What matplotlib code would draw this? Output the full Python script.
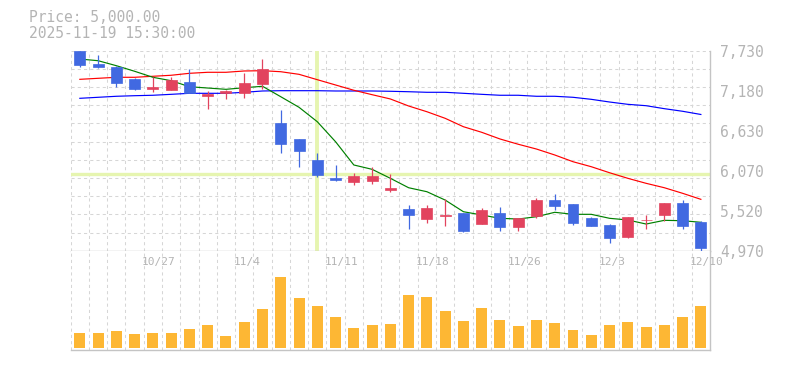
import matplotlib
matplotlib.use("Agg")
import matplotlib.pyplot as plt
import matplotlib.transforms as mtransforms
import numpy as np

# ---- data (daily candles, 10/21 - 12/10) ----
dates = ['10/21', '10/22', '10/23', '10/24', '10/27', '10/28', '10/29',
         '10/30', '10/31', '11/4', '11/5', '11/6', '11/7', '11/10',
         '11/11', '11/12', '11/13', '11/14', '11/17', '11/18', '11/19',
         '11/20', '11/21', '11/25', '11/26', '11/27', '11/28', '12/1',
         '12/2', '12/3', '12/4', '12/5', '12/8', '12/9', '12/10']

open_ = [7720, 7546, 7505, 7344, 7206, 7192, 7298, 7109, 7142, 7150,
         7270, 6732, 6511, 6222, 5973, 5918, 5936, 5808, 5545, 5412,
         5449, 5490, 5343, 5490, 5301, 5449, 5670, 5615, 5425, 5325,
         5163, 5390, 5457, 5628, 5366]
high = [7730, 7671, 7523, 7353, 7371, 7371, 7477, 7174, 7188, 7418,
        7615, 6912, 6511, 6318, 6153, 6042, 6125, 6032, 5600, 5601,
        5679, 5490, 5559, 5573, 5421, 5697, 5752, 5615, 5439, 5343,
        5435, 5467, 5628, 5670, 5380]
low = [7509, 7487, 7233, 7192, 7164, 7192, 7142, 6930, 7063, 7081,
       7197, 6322, 6125, 5991, 5936, 5881, 5895, 5784, 5274, 5356,
       5315, 5232, 5343, 5246, 5246, 5425, 5536, 5329, 5315, 5080,
       5149, 5274, 5384, 5274, 4970]
close = [7533, 7505, 7288, 7206, 7233, 7326, 7142, 7132, 7174, 7284,
         7477, 6447, 6346, 6019, 5950, 6001, 6001, 5835, 5467, 5559,
         5463, 5246, 5532, 5301, 5421, 5670, 5591, 5356, 5315, 5150,
         5435, 5398, 5628, 5315, 5011]

ma5 = [7615, 7592, 7523, 7446, 7363, 7316, 7233, 7215, 7197, 7219,
       7239, 7095, 6949, 6750, 6474, 6153, 6093, 5969, 5839, 5784,
       5669, 5508, 5463, 5417, 5407, 5439, 5500, 5472, 5472, 5417,
       5394, 5338, 5389, 5384, 5362]
ma25 = [7335, 7349, 7363, 7363, 7377, 7391, 7418, 7432, 7432, 7450,
        7454, 7440, 7404, 7330, 7257, 7184, 7123, 7064, 6967, 6888,
        6797, 6681, 6604, 6512, 6439, 6373, 6291, 6198, 6129, 6046,
        5969, 5900, 5839, 5762, 5679]
ma75 = [7073, 7087, 7101, 7109, 7115, 7128, 7142, 7142, 7142, 7156,
        7174, 7178, 7178, 7178, 7174, 7174, 7174, 7170, 7164, 7156,
        7156, 7142, 7128, 7115, 7115, 7101, 7101, 7087, 7059, 7022,
        6990, 6971, 6930, 6894, 6850]

volume = [153, 153, 173, 143, 153, 153, 193, 233, 123, 263, 393, 713,
          503, 423, 313, 203, 233, 243, 533, 513, 373, 273, 403, 283,
          223, 283, 253, 183, 133, 233, 263, 213, 233, 313, 423]

price_labels = ['4,970', '5,520', '6,070', '6,630', '7,180', '7,730']
price_min, price_max = 4970, 7730
crosshair_idx, crosshair_price = 13, 6030
header = ['Price: 5,000.00', '2025-11-19 15:30:00']

#%% style
UP, DOWN = '#e2435e', '#4169e1'
VOLC = '#fdb734'
GRIDC = '#d6d6d6'
EDGEC = '#c4c4c4'
TXTC = '#b4b4b4'
CROSSC = '#e6f5b0'
FONT = 'DejaVu Sans Mono'

W, H = 785, 370
fig = plt.figure(figsize=(W / 100, H / 100), dpi=100)
ax = fig.add_axes([70.7 / W, 1 - 250.7 / H, 639.3 / W, 200 / H])
axv = fig.add_axes([70.7 / W, 1 - 350 / H, 639.3 / W, 99.3 / H], sharex=ax)

x = np.arange(len(dates))
o, h, l, c = map(np.array, (open_, high, low, close))

for a in (ax, axv):
    a.set_xlim(-0.5, len(dates) - 0.5)
    for s in ('left', 'top'):
        a.spines[s].set_visible(False)
    for s in ('right', 'bottom'):
        a.spines[s].set_color(EDGEC)
        a.spines[s].set_linewidth(1.0)
    a.tick_params(left=False, bottom=False, labelleft=False, labelbottom=False)
    for xv in np.arange(-0.5, len(dates) - 1):
        a.axvline(xv, color=GRIDC, lw=0.75, ls=(0, (3, 3)), zorder=0)

ax.set_ylim(price_min, price_max)
for yv in np.linspace(price_min, price_max, 12)[1:]:
    ax.axhline(yv, color=GRIDC, lw=0.75, ls=(0, (3, 3)), zorder=0)

# crosshair
ax.axhline(crosshair_price, color=CROSSC, lw=2.4, zorder=1)
ax.axvline(crosshair_idx, color=CROSSC, lw=2.8, zorder=1)

# moving averages
ax.plot(x, ma75, color='#0000ff', lw=0.85, zorder=2)
ax.plot(x, ma25, color='#ff0000', lw=0.85, zorder=2)
ax.plot(x, ma5, color='#008000', lw=0.85, zorder=2)

# candles
cols = np.where(c >= o, UP, DOWN)
ax.vlines(x, l, h, colors=cols, lw=0.9, zorder=3)
ax.bar(x, np.abs(c - o), bottom=np.minimum(o, c), width=0.6, color=cols,
       edgecolor=cols, linewidth=0.5, zorder=4)

# right price labels
ytrans = mtransforms.blended_transform_factory(ax.transAxes, ax.transData)
ytrans = mtransforms.offset_copy(ytrans, fig=fig, x=10, y=-2, units='dots')
for val, lab in zip(np.linspace(price_min, price_max, 6), price_labels):
    ax.text(1.0, val, lab, transform=ytrans, ha='left', va='center',
            fontsize=10.5, color=TXTC, family=FONT, clip_on=False)

# volume
axv.set_ylim(-20, 973)
axv.bar(x, volume, width=0.6, color=VOLC, zorder=3)
xtrans = mtransforms.blended_transform_factory(axv.transData, axv.transAxes)
xtrans = mtransforms.offset_copy(xtrans, fig=fig, x=-11, y=-11.6, units='dots')
for i in range(4, len(dates), 5):
    axv.text(i, 1.0, dates[i], transform=xtrans, ha='left', va='center',
             fontsize=8, color=TXTC, family=FONT, clip_on=False, zorder=5)

# header
fig.text(29.3 / W, 1 - 17.7 / H, header[0], ha='left', va='center',
         fontsize=10.5, color=TXTC, family=FONT)
fig.text(29.3 / W, 1 - 33 / H, header[1], ha='left', va='center',
         fontsize=10.5, color=TXTC, family=FONT)

fig.savefig('out.png', dpi=100)
